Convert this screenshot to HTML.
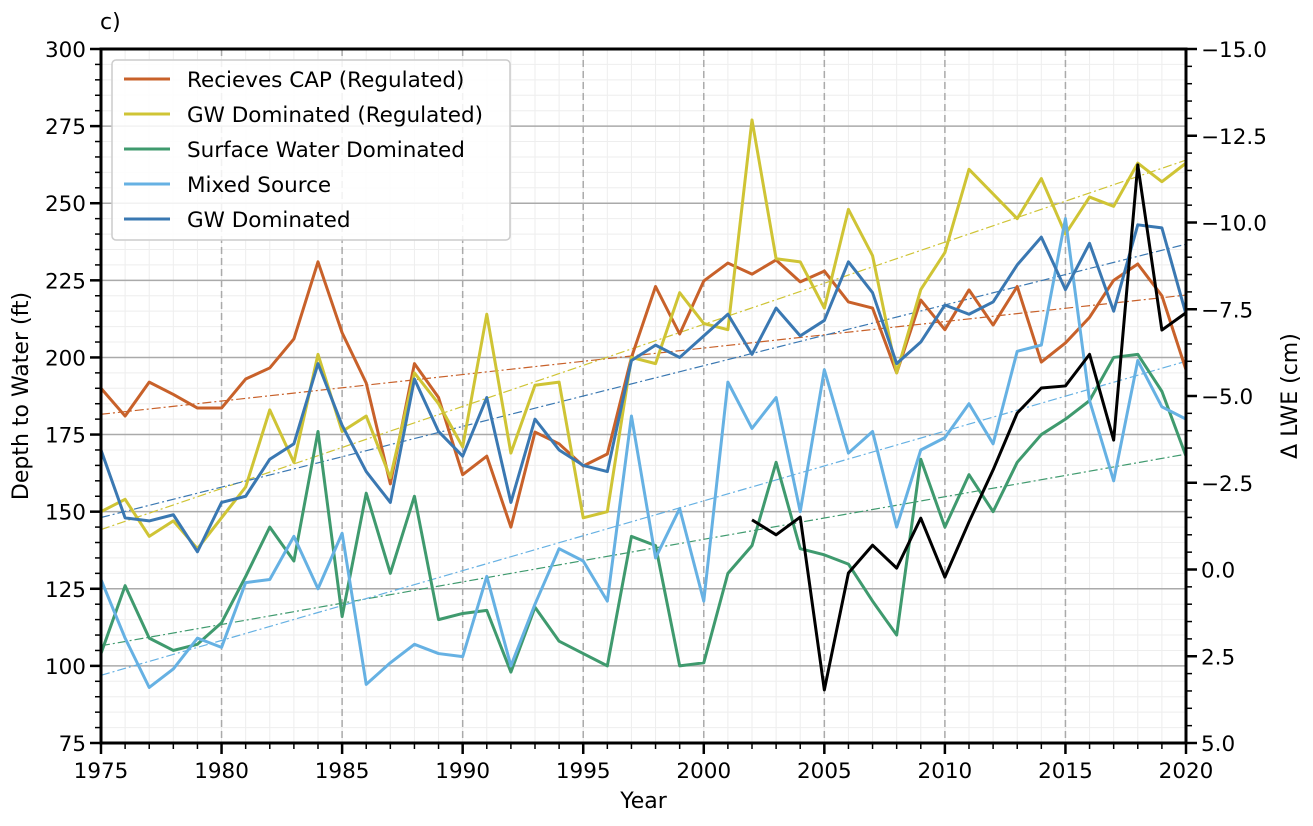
<!DOCTYPE html>
<html><head><meta charset="utf-8"><style>
body{margin:0;background:#fff;font-family:"DejaVu Sans",sans-serif}
svg text{font-family:"DejaVu Sans",sans-serif}
</style></head><body>
<svg id="chart" width="1313" height="822" viewBox="0 0 1313 822" xmlns="http://www.w3.org/2000/svg"></svg>
<script>
const years=[];for(let y=1975;y<=2020;y++)years.push(y);
const capReg=[190,181,192,188,183.6,183.6,193,196.6,206,231,208,191.7,159,198,187,162,168,145,175.8,172,164.8,168.7,200,223,207.6,224.8,230.6,227,231.6,224.5,228,218,216,195,218.6,209,221.9,210.5,223,198.5,204.7,213,225,230.3,220,196];
const gwReg=[150,154,142,147,138,148,158,183,166,201,176,181,161,195,185,171,214,169,191,192,148,150,200,198,221,211,209,277,232,231,216,248,233,195,222,234,261,253,245,258,240,252,249,263,257,263];
const surface=[104,126,109,105,107,114,129,145,134,176,116,156,130,155,115,117,118,98,119,108,104,100,142,139,100,101,130,139,166,138,136,133,121,110,167,145,162,150,166,175,180,186,200,201,189,168];
const mixed=[128,109,93,99,109,106,127,128,142,125,143,94,101,107,104,103,129,100,120,138,134,121,181,135,151,121,192,177,187,150,196,169,176,145,170,174,185,172,202,204,245,186,160,199,184,180];
const gwDom=[170,148,147,149,137,153,155,167,172,198,178,163,153,193,176,168,187,153,180,170,165,163,199,204,200,207,214,201,216,207,212,231,221,198,205,217,214,218,230,239,222,237,215,243,242,214];
const lweYears=[2002,2003,2004,2005,2006,2007,2008,2009,2010,2011,2012,2013,2014,2015,2016,2017,2018,2019,2020];
const lwe=[-1.43,-1.0,-1.51,3.47,0.1,-0.7,-0.04,-1.48,0.22,-1.37,-2.87,-4.51,-5.23,-5.29,-6.2,-3.73,-11.66,-6.9,-7.4];
const xTicks=[1975,1980,1985,1990,1995,2000,2005,2010,2015,2020];
const yTicks=[75,100,125,150,175,200,225,250,275,300];
const rTicks=[5.0,2.5,0.0,-2.5,-5.0,-7.5,-10.0,-12.5,-15.0];
const seriesNames=["Recieves CAP (Regulated)","GW Dominated (Regulated)","Surface Water Dominated","Mixed Source","GW Dominated"];
const seriesColors=["#c8612a","#cfc435","#3f9a6e","#66b1e3","#3a78b2"];
const seriesData=[capReg,gwReg,surface,mixed,gwDom];

const L=101,R=1186,T=49,B=743;
const X=v=>L+(v-1975)/45*(R-L);
const Y=v=>B-(v-75)/225*(B-T);
const YR=v=>T+(v+15)/20*(B-T);
const svg=document.getElementById('chart');
const NS="http://www.w3.org/2000/svg";
function mk(tag,attrs,parent){const e=document.createElementNS(NS,tag);for(const k in attrs)e.setAttribute(k,attrs[k]);(parent||svg).appendChild(e);return e;}

const grid=mk('g',{});


for(let y=1975;y<=2020;y++){mk('line',{x1:X(y),x2:X(y),y1:T,y2:B,stroke:'#eeeeee','stroke-width':1},grid);}
for(let v=75;v<=300;v+=5){mk('line',{x1:L,x2:R,y1:Y(v),y2:Y(v),stroke:'#eeeeee','stroke-width':1},grid);}
for(const v of yTicks){mk('line',{x1:L,x2:R,y1:Y(v),y2:Y(v),stroke:'#aaaaaa','stroke-width':1.5},grid);}
for(const y of xTicks){mk('line',{x1:X(y),x2:X(y),y1:T,y2:B,stroke:'#aaaaaa','stroke-width':1.5,'stroke-dasharray':'7,4'},grid);}

function fit(xs,ys){const n=xs.length;let mx=0,my=0;for(let i=0;i<n;i++){mx+=xs[i];my+=ys[i];}mx/=n;my/=n;let a=0,b=0;for(let i=0;i<n;i++){a+=(xs[i]-mx)*(ys[i]-my);b+=(xs[i]-mx)**2;}const s=a/b;return [s,my-s*mx];}
const tg=mk('g',{});


seriesData.forEach((d,i)=>{const [s,c]=fit(years,d);const ln=mk('line',{x1:X(1975),y1:Y(s*1975+c),x2:X(2020),y2:Y(s*2020+c),stroke:seriesColors[i],'stroke-width':1.2,'stroke-dasharray':'9,3,2,3'},tg);

});

seriesData.forEach((d,i)=>{const p=mk('polyline',{points:d.map((v,j)=>X(years[j])+','+Y(v)).join(' '),fill:'none',stroke:seriesColors[i],'stroke-width':3,'stroke-linejoin':'round'});

});
const lp=mk('polyline',{points:lwe.map((v,j)=>X(lweYears[j])+','+YR(v)).join(' '),fill:'none',stroke:'#000','stroke-width':3,'stroke-linejoin':'round'});



const fr=mk('rect',{x:L,y:T,width:R-L,height:B-T,fill:'none',stroke:'#000','stroke-width':3});



const ax=mk('g',{'font-size':21.5,fill:'#000'});


for(let y=1975;y<=2020;y++){const maj=(y%5===0);mk('line',{x1:X(y),x2:X(y),y1:B,y2:B+(maj?11:6),stroke:'#000','stroke-width':maj?2.5:1.5},ax);}
for(const y of xTicks){const t=mk('text',{x:X(y),y:B+35,'text-anchor':'middle'},ax);t.textContent=y;}
for(let v=75;v<=300;v+=5){const maj=(v%25===0);mk('line',{x1:L,x2:L-(maj?11:6),y1:Y(v),y2:Y(v),stroke:'#000','stroke-width':maj?2.5:1.5},ax);}
for(const v of yTicks){const t=mk('text',{x:L-15,y:Y(v)+8,'text-anchor':'end'},ax);t.textContent=v;}
for(let v=-15;v<=5.001;v+=0.5){const maj=Math.abs(v/2.5-Math.round(v/2.5))<1e-6;mk('line',{x1:R,x2:R+(maj?11:6),y1:YR(v),y2:YR(v),stroke:'#000','stroke-width':maj?2.5:1.5},ax);}
for(const v of rTicks){const t=mk('text',{x:R+15,y:YR(v)+8,'text-anchor':'start'},ax);t.textContent=(v<0?'\u2212':'')+Math.abs(v).toFixed(1);}
let t=mk('text',{x:(L+R)/2,y:808,'text-anchor':'middle','font-size':22},ax);t.textContent='Year';
t=mk('text',{x:0,y:0,'text-anchor':'middle','font-size':22,transform:'translate(28,396) rotate(-90)'},ax);t.textContent='Depth to Water (ft)';
t=mk('text',{x:0,y:0,'text-anchor':'middle','font-size':22,transform:'translate(1297,396) rotate(-90)'},ax);t.textContent='\u0394 LWE (cm)';
t=mk('text',{x:100,y:29,'font-size':22},ax);t.textContent='c)';

const lg=mk('g',{});


mk('rect',{x:112,y:60,width:398,height:180,rx:4,fill:'#fff','fill-opacity':0.85,stroke:'#cccccc','stroke-width':1.5},lg);
seriesNames.forEach((n,i)=>{const yy=79+i*35;const e=mk('g',{},lg);


mk('line',{x1:124,x2:170,y1:yy,y2:yy,stroke:seriesColors[i],'stroke-width':3},e);
const tx=mk('text',{x:187,y:yy+8,'font-size':21.5},e);tx.textContent=n;});
</script>
</body></html>
